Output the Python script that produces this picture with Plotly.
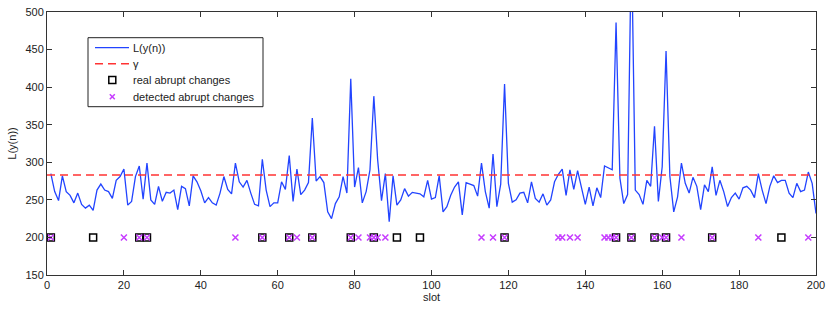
import plotly.graph_objects as go

slots = list(range(1, 201))
L_values = [
    285, 261, 249, 282, 261, 256, 246, 259, 244, 239,
    243, 236, 263, 271, 263, 261, 252, 276, 281, 291,
    243, 248, 281, 295, 251, 299, 250, 244, 268, 248,
    260, 259, 263, 237, 268, 265, 242, 282, 274, 262,
    246, 253, 246, 243, 259, 281, 264, 258, 299, 274,
    267, 276, 259, 244, 242, 304, 263, 241, 246, 246,
    274, 264, 309, 248, 291, 257, 263, 273, 359, 275,
    281, 273, 234, 225, 245, 254, 281, 259, 411, 267,
    293, 246, 261, 290, 388, 303, 249, 285, 221, 282,
    243, 250, 265, 255, 260, 259, 258, 254, 276, 251,
    253, 282, 234, 241, 256, 267, 274, 230, 273, 271,
    269, 255, 299, 261, 239, 311, 241, 271, 404, 272,
    247, 250, 259, 260, 246, 274, 252, 247, 258, 243,
    250, 274, 284, 291, 256, 290, 264, 289, 265, 244,
    267, 242, 266, 253, 295, 293, 290, 486, 279, 245,
    257, 600, 263, 257, 244, 276, 268, 348, 248, 294,
    448, 281, 234, 254, 299, 272, 259, 280, 268, 237,
    270, 261, 294, 256, 276, 261, 241, 253, 259, 251,
    266, 268, 263, 253, 285, 263, 245, 268, 282, 273,
    276, 276, 259, 253, 272, 261, 263, 287, 272, 232,
]
gamma = 283
marker_level = 200
real_changes = [1, 12, 24, 26, 56, 63, 69, 79, 85, 91, 97, 119, 148, 152, 158, 161, 173, 191]
detected_changes = [1, 20, 24, 26, 49, 56, 63, 65, 69, 79, 81, 84, 85, 86, 88, 113, 116, 119,
                    133, 134, 136, 138, 145, 146, 147, 148, 152, 158, 160, 161, 165, 173, 185, 198]

x_ticks = list(range(0, 201, 20))
y_ticks = list(range(150, 501, 50))
legend_labels = ["L(y(n))", "γ", "real abrupt changes", "detected abrupt changes"]

FONT = "Liberation Sans, Arial, sans-serif"
BLUE = "#2244ff"
RED = "#ff3333"
MAG = "#c63cff"

fig = go.Figure()
fig.add_trace(go.Scatter(
    x=slots, y=L_values, mode="lines", name=legend_labels[0], showlegend=False,
    line=dict(color=BLUE, width=1.3),
))
fig.add_trace(go.Scatter(
    x=[0, 200], y=[gamma, gamma], mode="lines", name=legend_labels[1], showlegend=False,
    line=dict(color=RED, width=1.6, dash="8px,5px"),
))
fig.add_trace(go.Scatter(
    x=real_changes, y=[marker_level] * len(real_changes), mode="markers",
    name=legend_labels[2], showlegend=False,
    marker=dict(symbol="square-open", size=7, color="black", line=dict(width=1.5, color="black")),
))
fig.add_trace(go.Scatter(
    x=detected_changes, y=[marker_level] * len(detected_changes), mode="markers",
    name=legend_labels[3], showlegend=False,
    marker=dict(symbol="x-thin-open", size=6, color=MAG, line=dict(width=1.5, color=MAG)),
))

# ---- hand-drawn legend box (paper coordinates of the plot area) ----
PW, PH = 769.0, 263.0          # plot area size in px
def px(dx):
    return dx / PW
def py(dy):
    return dy / PH

bx0, bx1 = px(41), px(216)
by1 = 1 - py(25.7)
row_y = [1 - py(35.7), 1 - py(51.7), 1 - py(68.0), 1 - py(84.7)]
by0 = 1 - py(94.7)
sx0, sx1 = px(48), px(82)
sc = px(65.3)
tx = px(84)

shapes = [
    dict(type="rect", xref="paper", yref="paper", x0=bx0, x1=bx1, y0=by0, y1=by1,
         line=dict(color="#222222", width=1), fillcolor="white", layer="above"),
    dict(type="line", xref="paper", yref="paper", x0=sx0, x1=sx1, y0=row_y[0], y1=row_y[0],
         line=dict(color=BLUE, width=1.3), layer="above"),
    dict(type="line", xref="paper", yref="paper", x0=sx0, x1=sx1, y0=row_y[1], y1=row_y[1],
         line=dict(color=RED, width=1.6, dash="8px,5px"), layer="above"),
    dict(type="rect", xref="paper", yref="paper",
         x0=sc - px(3.5), x1=sc + px(3.5), y0=row_y[2] - py(3.5), y1=row_y[2] + py(3.5),
         line=dict(color="black", width=1.5), fillcolor="white", layer="above"),
    dict(type="line", xref="paper", yref="paper",
         x0=sc - px(2.5), x1=sc + px(2.5), y0=row_y[3] - py(2.5), y1=row_y[3] + py(2.5),
         line=dict(color=MAG, width=1.5), layer="above"),
    dict(type="line", xref="paper", yref="paper",
         x0=sc - px(2.5), x1=sc + px(2.5), y0=row_y[3] + py(2.5), y1=row_y[3] - py(2.5),
         line=dict(color=MAG, width=1.5), layer="above"),
]
annotations = [
    dict(text=lab, xref="paper", yref="paper", x=tx, y=yy, xanchor="left", yanchor="middle",
         showarrow=False, font=dict(family=FONT, size=11, color="#222222"))
    for lab, yy in zip(legend_labels, row_y)
]

axis_common = dict(
    showgrid=False, zeroline=False, showline=True, linecolor="#333333", linewidth=1,
    mirror="ticks", ticks="inside", ticklen=5, tickcolor="#333333", automargin=False,
    ticklabeloverflow="allow",
    tickfont=dict(family=FONT, size=11, color="#222222"),
)
fig.update_xaxes(range=[0, 200], tickvals=x_ticks, title=dict(text="slot", standoff=2,
                 font=dict(family=FONT, size=11, color="#222222")),
                 **axis_common)
fig.update_yaxes(range=[150, 500], tickvals=y_ticks, title=dict(text="L(y(n))", standoff=6,
                 font=dict(family=FONT, size=11, color="#222222")),
                 **axis_common)

fig.update_layout(
    width=830, height=309,
    margin=dict(l=47, r=14, t=12, b=34, autoexpand=False),
    plot_bgcolor="white", paper_bgcolor="white",
    font=dict(family=FONT, size=11, color="#222222"),
    showlegend=False,
    hovermode=False,
    shapes=shapes,
    annotations=annotations,
)

# remove the default 8px page margin so the figure fills the window exactly
fig.write_html("out.html", config={"displayModeBar": False},
               post_script="document.body.style.margin='0px';")
